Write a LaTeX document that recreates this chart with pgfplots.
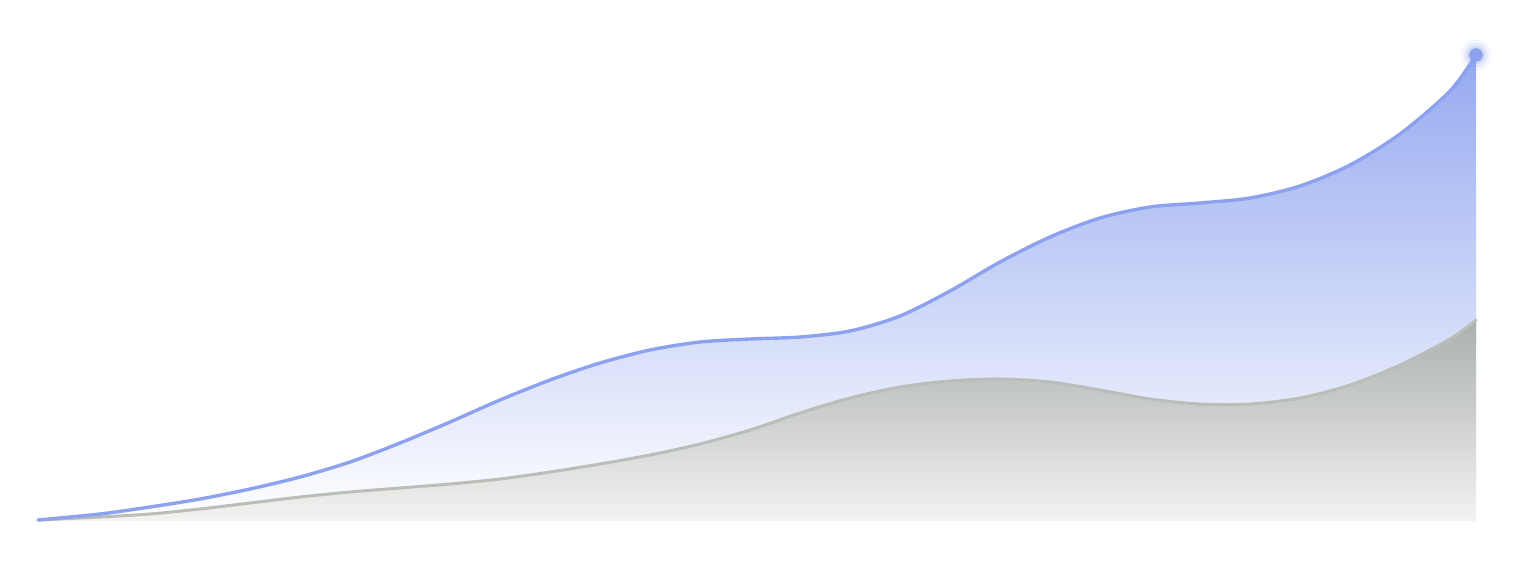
\documentclass[border=0pt]{standalone}
\usepackage{pgfplots}
\pgfplotsset{compat=1.18}

\definecolor{blueline}{HTML}{8DA2EE}
\definecolor{bluetop}{HTML}{95A9F0}
\definecolor{grayline}{HTML}{BABEB8}
\definecolor{graytop}{HTML}{AAAFAF}
\definecolor{graybot}{HTML}{F3F3F1}

% x and y in reference pixels, y measured up from the baseline
\pgfplotstableread{
x y
38 1
100 7
150 14
200 22
250 32
300 44
350 59
400 78
450 99
500 121
550 141
600 158
650 171
700 179
750 182
800 184
850 190
900 205
950 230
1000 259
1050 284
1100 303
1150 314
1200 318
1250 323
1300 335
1350 356
1400 387
1450 430
1476 466
}\bluedata

\pgfplotstableread{
x y
38 1
100 4
150 7
200 12
250 18
300 24
350 29
400 33
450 37
500 42
550 49
600 57
650 66
700 77
750 91
800 108
850 123
900 134
950 140
1000 142
1050 139
1100 131
1150 122
1200 117
1250 117
1300 123
1350 136
1400 156
1450 182
1476 201
}\graydata

\begin{document}
\begin{tikzpicture}
\begin{axis}[
	width=768pt, height=282pt,
	scale only axis,
	hide axis,
	xmin=0, xmax=1536,
	ymin=-43, ymax=521,
	clip=false,
]
% blue area
\addplot[draw=none, smooth, top color=bluetop, bottom color=white]
	table {\bluedata} \closedcycle;
% gray area on top of it
\addplot[draw=none, smooth, top color=graytop, bottom color=graybot]
	table {\graydata} \closedcycle;
\addplot[grayline, line width=1.5pt, smooth, line cap=round]
	table {\graydata};
\addplot[blueline, line width=1.7pt, smooth, line cap=round]
	table {\bluedata};
% end point with glow
\addplot[only marks, mark=*, mark size=7.5pt, color=blueline, opacity=0.08]
	coordinates {(1476,466)};
\addplot[only marks, mark=*, mark size=5.8pt, color=blueline, opacity=0.14]
	coordinates {(1476,466)};
\addplot[only marks, mark=*, mark size=4.4pt, color=blueline, opacity=0.22]
	coordinates {(1476,466)};
\addplot[only marks, mark=*, mark size=3.2pt, color=blueline]
	coordinates {(1476,466)};
\path (rel axis cs:0,0) rectangle (rel axis cs:1,1);
\end{axis}
\end{tikzpicture}
\end{document}
